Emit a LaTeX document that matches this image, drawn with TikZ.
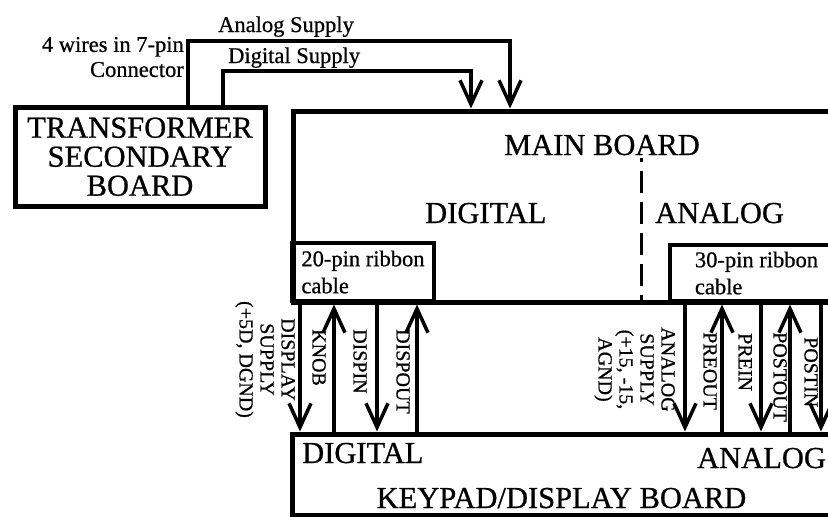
\documentclass[tikz,border=0pt]{standalone}
\usepackage{fontspec}
\setmainfont{Liberation Serif}[UprightFeatures={FakeBold=0.7}]
\usepackage{tikz}
\usetikzlibrary{calc, positioning, arrows.meta}

\begin{document}
\begin{tikzpicture}[x=1pt, y=-1pt,
  board/.style={draw, rectangle, line width=5pt, inner sep=0pt},
  ribbon/.style={draw, rectangle, line width=3.5pt, inner sep=0pt, align=left,
                 font=\fontsize{22.5}{27}\selectfont},
  bigtext/.style={font=\fontsize{30.5}{29}\selectfont, inner sep=0pt},
  smalltext/.style={font=\fontsize{22.5}{25}\selectfont, inner sep=0pt},
  siglab/.style={font=\fontsize{20}{21}\selectfont, rotate=-90, align=center,
                 inner sep=0pt},
  sig/.style={line width=3.5pt, -{Straight Barb[length=24pt,width=22pt]}},
  divider/.style={line width=3pt, dash pattern=on 22pt off 9pt, dash phase=18pt}
]
\useasboundingbox (0,0) rectangle (828,517);
\clip (0,0) rectangle (828,517);

% boards
\node[board, bigtext, align=center, minimum width=250pt, minimum height=98.5pt]
  (trans) at (140,156.75) {TRANSFORMER\\SECONDARY\\BOARD};
\node[board, minimum width=607pt, minimum height=191pt] (main) at (596.5,206.5) {};
\node[board, minimum width=608pt, minimum height=81pt] (keypad) at (596,474.5) {};

% main board
\node[bigtext, anchor=base] (mtitle) at (602,155) {MAIN BOARD};
\node[bigtext, anchor=base west] (mdig) at (425,223) {DIGITAL};
\node[bigtext, anchor=base west] (mana) at (655,223) {ANALOG};
\coordinate (divtop) at (641,158);
\draw[divider] (divtop) -- (main.south -| divtop);

\node[ribbon, minimum width=142pt, minimum height=58pt] (rib20) at (363,272)
  {20-pin ribbon\\cable};
\node[ribbon, minimum width=173pt, minimum height=56pt] (rib30) at (756.5,273)
  {30-pin ribbon\\cable};

% keypad board
\node[bigtext, anchor=base west] (kdig) at (302,463) {DIGITAL};
\node[bigtext, anchor=base west] (kana) at (697,468) {ANALOG};
\node[bigtext, anchor=base] (ktitle) at (561.5,508) {KEYPAD/DISPLAY BOARD};

% supply wires
\node[smalltext, anchor=east, align=right] (conn) at (184,57)
  {4 wires in 7-pin\\Connector};
\coordinate (abend) at (188,41);
\coordinate (aend) at (510,41);
\coordinate (dbend) at (223,71);
\coordinate (dend) at (471,71);
\draw[sig] (trans.north -| abend) -- (abend) -- (aend) -- (main.north -| aend);
\draw[sig] (trans.north -| dbend) -- (dbend) -- (dend) -- (main.north -| dend);
\node[smalltext, anchor=base west] (lana) at (218,32) {Analog Supply};
\node[smalltext, anchor=base west] (ldig) at (228,63) {Digital Supply};

% digital signals
\coordinate (xdisp) at (300,0);
\coordinate (xknob) at (334,0);
\coordinate (xdispin) at (377,0);
\coordinate (xdispout) at (417,0);
\draw[sig] (main.south -| xdisp) -- (keypad.north -| xdisp);
\draw[sig] (keypad.north -| xknob) -- (main.south -| xknob);
\draw[sig] (main.south -| xdispin) -- (keypad.north -| xdispin);
\draw[sig] (keypad.north -| xdispout) -- (main.south -| xdispout);
\node[siglab, anchor=north] (ldisp) at (295,359.5) {DISPLAY\\SUPPLY\\(+5D, DGND)};
\node[siglab, anchor=north west] (lknob) at (326,329) {KNOB};
\node[siglab, anchor=north west] (ldispin) at (367,329) {DISPIN};
\node[siglab, anchor=north west] (ldispout) at (410,329) {DISPOUT};

% analog signals
\coordinate (xasup) at (685,0);
\coordinate (xpreout) at (722,0);
\coordinate (xprein) at (761,0);
\coordinate (xpostout) at (790,0);
\coordinate (xpostin) at (821,0);
\draw[sig] (main.south -| xasup) -- (keypad.north -| xasup);
\draw[sig] (keypad.north -| xpreout) -- (main.south -| xpreout);
\draw[sig] (main.south -| xprein) -- (keypad.north -| xprein);
\draw[sig] (keypad.north -| xpostout) -- (main.south -| xpostout);
\draw[sig] (main.south -| xpostin) -- (keypad.north -| xpostin);
\node[siglab, anchor=north] (lasup) at (675,369.5) {ANALOG\\SUPPLY\\(+15, -15,\\AGND)};
\node[siglab, anchor=north west] (lpreout) at (717,332) {PREOUT};
\node[siglab, anchor=north west] (lprein) at (752,333) {PREIN};
\node[siglab, anchor=north west] (lpostout) at (787,332) {POSTOUT};
\node[siglab, anchor=north west] (lpostin) at (818,337) {POSTIN};

\end{tikzpicture}
\end{document}
